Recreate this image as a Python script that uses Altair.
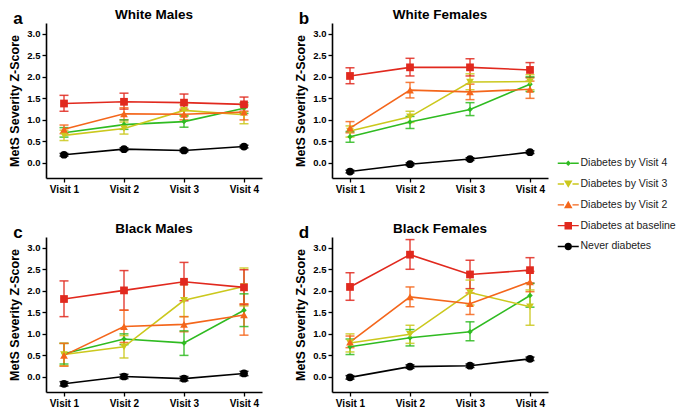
import altair as alt
import pandas as pd

visits = ["Visit 1", "Visit 2", "Visit 3", "Visit 4"]
groups = ["Diabetes by Visit 4", "Diabetes by Visit 3", "Diabetes by Visit 2",
          "Diabetes at baseline", "Never diabetes"]
colors = ["#2fbb21", "#cbc81d", "#f4661b", "#e1291e", "#000000"]
shapes = ["diamond", "triangle-down", "triangle-up", "square", "circle"]
sizes = [30, 60, 60, 60, 60]

panels = ["White Males", "White Females", "Black Males", "Black Females"]
letters = ["a", "b", "c", "d"]

# White Males
wm_mean = {
    "Diabetes by Visit 4": [0.70, 0.89, 0.96, 1.27],
    "Diabetes by Visit 3": [0.64, 0.80, 1.22, 1.12],
    "Diabetes by Visit 2": [0.78, 1.14, 1.13, 1.18],
    "Diabetes at baseline": [1.38, 1.42, 1.40, 1.36],
    "Never diabetes": [0.19, 0.32, 0.29, 0.38],
}
wm_lo = {
    "Diabetes by Visit 4": [0.60, 0.78, 0.83, 1.15],
    "Diabetes by Visit 3": [0.52, 0.67, 1.10, 0.91],
    "Diabetes by Visit 2": [0.68, 1.00, 1.00, 1.00],
    "Diabetes at baseline": [1.20, 1.25, 1.22, 1.20],
    "Never diabetes": [0.16, 0.29, 0.26, 0.35],
}
wm_hi = {
    "Diabetes by Visit 4": [0.82, 1.00, 1.09, 1.40],
    "Diabetes by Visit 3": [0.76, 0.95, 1.35, 1.32],
    "Diabetes by Visit 2": [0.88, 1.28, 1.25, 1.35],
    "Diabetes at baseline": [1.57, 1.62, 1.60, 1.53],
    "Never diabetes": [0.22, 0.35, 0.32, 0.41],
}

# White Females
wf_mean = {
    "Diabetes by Visit 4": [0.61, 0.95, 1.24, 1.83],
    "Diabetes by Visit 3": [0.74, 1.07, 1.88, 1.89],
    "Diabetes by Visit 2": [0.81, 1.69, 1.65, 1.71],
    "Diabetes at baseline": [2.02, 2.22, 2.22, 2.16],
    "Never diabetes": [-0.20, -0.03, 0.09, 0.25],
}
wf_lo = {
    "Diabetes by Visit 4": [0.48, 0.80, 1.10, 1.66],
    "Diabetes by Visit 3": [0.60, 0.94, 1.70, 1.70],
    "Diabetes by Visit 2": [0.70, 1.51, 1.47, 1.50],
    "Diabetes at baseline": [1.84, 2.02, 2.02, 1.98],
    "Never diabetes": [-0.23, -0.06, 0.06, 0.22],
}
wf_hi = {
    "Diabetes by Visit 4": [0.73, 1.08, 1.40, 2.00],
    "Diabetes by Visit 3": [0.86, 1.20, 2.07, 2.05],
    "Diabetes by Visit 2": [0.96, 1.87, 1.83, 1.90],
    "Diabetes at baseline": [2.21, 2.43, 2.42, 2.33],
    "Never diabetes": [-0.17, 0.00, 0.12, 0.28],
}

# Black Males
bm_mean = {
    "Diabetes by Visit 4": [0.54, 0.88, 0.79, 1.55],
    "Diabetes by Visit 3": [0.52, 0.70, 1.78, 2.10],
    "Diabetes by Visit 2": [0.50, 1.17, 1.22, 1.44],
    "Diabetes at baseline": [1.81, 2.01, 2.21, 2.08],
    "Never diabetes": [-0.16, 0.01, -0.04, 0.08],
}
bm_lo = {
    "Diabetes by Visit 4": [0.30, 0.75, 0.50, 1.17],
    "Diabetes by Visit 3": [0.26, 0.44, 1.40, 1.65],
    "Diabetes by Visit 2": [0.25, 0.80, 1.05, 0.97],
    "Diabetes at baseline": [1.40, 1.55, 1.77, 1.68],
    "Never diabetes": [-0.21, -0.04, -0.09, 0.03],
}
bm_hi = {
    "Diabetes by Visit 4": [0.78, 1.00, 1.07, 1.93],
    "Diabetes by Visit 3": [0.78, 0.96, 2.15, 2.53],
    "Diabetes by Visit 2": [0.78, 1.55, 1.40, 1.70],
    "Diabetes at baseline": [2.23, 2.47, 2.66, 2.49],
    "Never diabetes": [-0.11, 0.06, 0.01, 0.13],
}

# Black Females
bf_mean = {
    "Diabetes by Visit 4": [0.70, 0.91, 1.05, 1.89],
    "Diabetes by Visit 3": [0.79, 0.99, 1.96, 1.63],
    "Diabetes by Visit 2": [0.81, 1.86, 1.70, 2.21],
    "Diabetes at baseline": [2.09, 2.84, 2.38, 2.48],
    "Never diabetes": [-0.01, 0.24, 0.26, 0.42],
}
bf_lo = {
    "Diabetes by Visit 4": [0.52, 0.72, 0.84, 1.62],
    "Diabetes by Visit 3": [0.58, 0.78, 1.67, 1.20],
    "Diabetes by Visit 2": [0.68, 1.63, 1.45, 1.98],
    "Diabetes at baseline": [1.78, 2.50, 2.05, 2.18],
    "Never diabetes": [-0.05, 0.20, 0.22, 0.38],
}
bf_hi = {
    "Diabetes by Visit 4": [0.88, 1.10, 1.28, 2.17],
    "Diabetes by Visit 3": [1.00, 1.20, 2.25, 2.02],
    "Diabetes by Visit 2": [0.95, 2.09, 1.95, 2.45],
    "Diabetes at baseline": [2.42, 3.19, 2.71, 2.77],
    "Never diabetes": [0.03, 0.28, 0.30, 0.46],
}

panel_data = {
    "White Males": (wm_mean, wm_lo, wm_hi),
    "White Females": (wf_mean, wf_lo, wf_hi),
    "Black Males": (bm_mean, bm_lo, bm_hi),
    "Black Females": (bf_mean, bf_lo, bf_hi),
}

rows = []
for p in panels:
    m, lo, hi = panel_data[p]
    for g in groups:
        for i, v in enumerate(visits):
            rows.append({"panel": p, "group": g, "visit": v,
                         "mean": m[g][i], "lo": lo[g][i], "hi": hi[g][i]})
df = pd.DataFrame(rows)

# legend symbols: line + marker as custom paths (unit box -1..1 at symbolSize 100 -> 10px)
def seg(gap):
    return (f"M-2.1,-0.14H-{gap}V0.14H-2.1Z"
            f"M{gap},-0.14H2.1V0.14H{gap}Z")

legend_paths = [
    seg(0.5) + "M0,-0.55L0.55,0L0,0.55L-0.55,0Z",
    seg(0.85) + "M-0.85,-0.7H0.85L0,0.75Z",
    seg(0.85) + "M0,-0.8L0.85,0.7H-0.85Z",
    seg(0.75) + "M-0.75,-0.75H0.75V0.75H-0.75Z",
    seg(0.75) + "M-0.75,0A0.75,0.75 0 1,0 0.75,0A0.75,0.75 0 1,0 -0.75,0Z",
]

FONT = "Liberation Sans"
color_scale = alt.Scale(domain=groups, range=colors)
x_enc = alt.X("visit:N", scale=alt.Scale(domain=visits, type="point", padding=0.3),
              axis=alt.Axis(title=None, labelAngle=0))
y_scale = alt.Scale(domain=[-0.35, 3.25], nice=False, zero=False)
y_axis = alt.Axis(values=[0, 0.5, 1, 1.5, 2, 2.5, 3], format=".1f",
                  title="MetS Severity Z-Score")


def yq(field):
    return alt.Y(field, type="quantitative", scale=y_scale, axis=y_axis)


W, H = 216, 155

legend_def = alt.Legend(
    title=None, orient="none", legendX=517, legendY=135,
    symbolSize=100, labelOffset=7, rowPadding=9.8,
    labelFont=FONT, labelFontSize=10.5, labelColor="#222222",
    symbolStrokeWidth=0)


def panel(name, letter, with_legend=False):
    base = alt.Chart(df).transform_filter(alt.datum.panel == name)
    col = alt.Color("group:N", scale=color_scale)
    rule = base.mark_rule(strokeWidth=1.5, opacity=0.85).encode(
        x=x_enc, y=yq("lo"), y2="hi:Q", color=col)
    cap_lo = base.mark_tick(thickness=1.5, size=9, opacity=0.85).encode(
        x=x_enc, y=yq("lo"), color=col)
    cap_hi = base.mark_tick(thickness=1.5, size=9, opacity=0.85).encode(
        x=x_enc, y=yq("hi"), color=col)
    line = base.mark_line(strokeWidth=1.6).encode(
        x=x_enc, y=yq("mean"), color=col, detail="group:N")
    layers = [rule, cap_lo, cap_hi, line]
    for g, s, sz in zip(groups, shapes, sizes):
        layers.append(
            base.transform_filter(alt.datum.group == g)
            .mark_point(filled=True, opacity=1, shape=s, size=sz, strokeWidth=0)
            .encode(x=x_enc, y=yq("mean"), color=col)
        )
    ann = pd.DataFrame({"letter": [letter], "name": [name]})
    lab = alt.Chart(ann).mark_text(
        font=FONT, fontSize=17, fontWeight="bold", align="center", baseline="alphabetic",
        color="black").encode(x=alt.value(-28), y=alt.value(1), text="letter:N")
    ttl = alt.Chart(ann).mark_text(
        font=FONT, fontSize=13.5, fontWeight="bold", align="center", baseline="alphabetic",
        color="black").encode(x=alt.value(W / 2), y=alt.value(-4), text="name:N")
    layers += [lab, ttl]
    if with_legend:
        leg = base.transform_filter("false").mark_point(
            filled=True, opacity=1, strokeWidth=0).encode(
            x=x_enc, y=yq("mean"),
            color=alt.Color("group:N", scale=color_scale, legend=legend_def),
            shape=alt.Shape("group:N", scale=alt.Scale(domain=groups, range=legend_paths),
                            legend=legend_def),
        )
        layers.append(leg)
    return alt.layer(*layers).properties(width=W, height=H)


charts = [panel(p, l, with_legend=(i == 1)) for i, (p, l) in enumerate(zip(panels, letters))]

chart = alt.concat(*charts, columns=2, spacing={"row": 28, "column": 32}).properties(
    padding=0
).configure_view(
    stroke=None
).configure_legend(
    disable=True
).configure_axis(
    labelFont=FONT, labelFontWeight="bold", labelColor="black",
    titleFont=FONT, titleFontWeight="bold", titleColor="black",
    domainColor="black", domainWidth=1.6, tickColor="black", tickWidth=1.3,
    grid=False,
).configure_axisX(
    labelFontSize=10, tickSize=4, labelPadding=2,
).configure_axisY(
    labelFontSize=9.5, tickSize=4, titleFontSize=12.5, titlePadding=5,
)

chart.save("out.html", embed_options={"renderer": "svg", "actions": False})
